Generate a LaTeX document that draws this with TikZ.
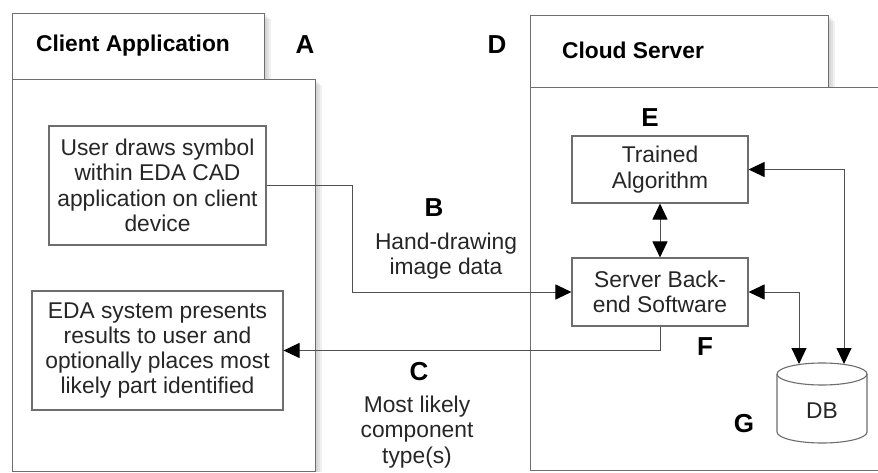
\documentclass[tikz,border=0pt]{standalone}
\usepackage{fontspec}
\setmainfont{Liberation Sans}
\usetikzlibrary{arrows.meta,calc}
\definecolor{linegray}{HTML}{6E6E6E}
\definecolor{conngray}{HTML}{505050}
\definecolor{textgray}{HTML}{262626}
\pgfdeclarelayer{background}
\pgfsetlayers{background,main}
\begin{document}
\begin{tikzpicture}[x=1pt,y=-1pt,
  box/.style={draw=linegray, line width=1.1pt, fill=white, inner sep=0pt},
  txt/.style={font=\fontsize{22.8}{25.3}\selectfont, text=textgray, align=center},
  lbl/.style={font=\fontsize{26}{30}\selectfont\bfseries, text=black},
  ttl/.style={font=\fontsize{22.8}{26}\selectfont\bfseries, text=black},
  conn/.style={draw=conngray, line width=1pt, -{Triangle[length=16pt,width=15pt,color=black]}},
  conn2/.style={draw=conngray, line width=1pt, {Triangle[length=16pt,width=15pt,color=black]}-{Triangle[length=16pt,width=15pt,color=black]}},
  shd/.style={fill=black, opacity=0.06, draw=none}
]
\useasboundingbox (0,0) rectangle (878,473);

% outer containers
\node[box, anchor=north west, minimum width=303pt, minimum height=392pt] (clientmain) at (12,79) {};
\node[box, anchor=north west, minimum width=252pt, minimum height=66pt] (clienthead) at (12,13) {};
\node[box, anchor=north west, minimum width=360pt, minimum height=383pt] (cloudmain) at (530,87) {};
\node[box, anchor=north west, minimum width=298pt, minimum height=72pt] (cloudhead) at (530,15) {};

\begin{pgfonlayer}{background}
  \foreach \d in {2,4,6} {
    \fill[shd] ($(clientmain.north west)+(\d,\d)$) rectangle ($(clientmain.south east)+(\d,0)$);
    \fill[shd] ($(clienthead.north west)+(\d,\d)$) rectangle ($(clienthead.south east)+(\d,0)$);
    \fill[shd] ($(cloudhead.north west)+(\d,\d)$) rectangle ($(cloudhead.south east)+(\d,0)$);
  }
\end{pgfonlayer}

\node[ttl] (clienttitle) at (133,46) {Client Application};
\node[ttl] (cloudtitle) at (633,50) {Cloud Server};

% letters
\node[lbl] (labA) at (305,45) {A};
\node[lbl] (labB) at (434,208) {B};
\node[lbl] (labC) at (419,372) {C};
\node[lbl] (labD) at (497,45) {D};
\node[lbl] (labE) at (650,118) {E};
\node[lbl] (labF) at (705,347) {F};
\node[lbl] (labG) at (744,424) {G};

% inner boxes
\node[box, txt, minimum width=217pt, minimum height=119pt] (user) at (157.5,185.5)
  {User draws symbol\\within EDA CAD\\application on client\\device};
\node[box, txt, minimum width=251pt, minimum height=119pt] (eda) at (157.5,350.5)
  {EDA system presents\\results to user and\\optionally places most\\likely part identified};
\node[box, txt, minimum width=176pt, minimum height=67pt] (trained) at (660,169.5)
  {Trained\\Algorithm};
\node[box, txt, minimum width=176pt, minimum height=68pt] (server) at (660,292)
  {Server Back-\\end Software};

% database cylinder
\draw[draw=linegray, line width=1.1pt, fill=white]
  (777,374) -- (777,432) arc[start angle=180, end angle=360, x radius=45pt, y radius=11pt]
  -- (867,374) arc[start angle=0, end angle=180, x radius=45pt, y radius=11pt] -- cycle;
\draw[draw=linegray, line width=1.1pt]
  (777,374) arc[start angle=180, end angle=360, x radius=45pt, y radius=11pt];
\node[txt, minimum width=90pt, minimum height=80pt] (db) at (822,411) {DB};
\coordinate (dbinA) at (799,364);
\coordinate (dbinB) at (844,364);

% connector labels
\node[txt] (labBtext) at (446,256) {Hand-drawing\\image data};
\node[txt] (labCtext) at (417,432) {Most likely\\component\\type(s)};

% connectors
\draw[conn] (user.east) -- (352,185.5) |- (server.west);
\draw[conn] (server.south) |- (eda.east);
\draw[conn2] (trained.south) -- (server.north);
\draw[conn2] (trained.east) -| (dbinB);
\draw[conn2] (server.east) -| (dbinA);
\end{tikzpicture}
\end{document}
